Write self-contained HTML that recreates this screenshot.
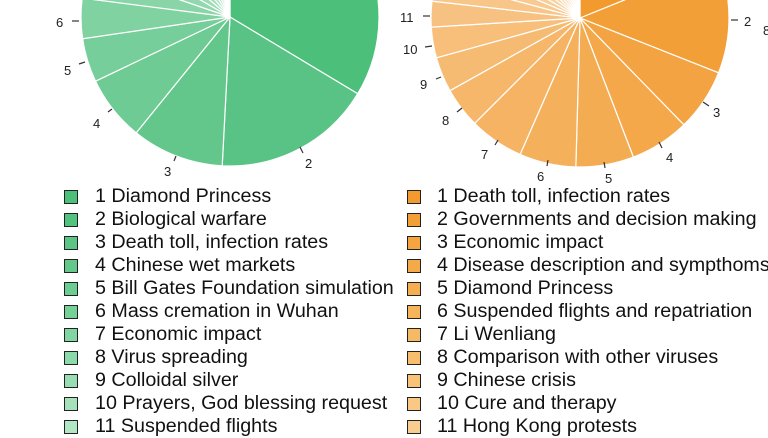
<!DOCTYPE html>
<html><head><meta charset="utf-8"><style>
html,body{margin:0;padding:0;background:#fff;width:768px;height:432px;overflow:hidden;font-family:"Liberation Sans",Arial,sans-serif}
svg{position:absolute;left:0;top:0}
.lg{position:absolute;font-size:19.7px;color:#111;line-height:23px;white-space:nowrap}
.lg div{position:relative;height:23px}
.sq{position:absolute;width:12px;height:12px;border:1px solid #222;top:5px}
</style></head><body>
<svg id="s" width="768" height="432" font-family="Liberation Sans, Arial, sans-serif" font-size="13" fill="#222">
<g id="pies"></g>
<g stroke="#333" stroke-width="1.2">
<line x1="300" y1="147" x2="303" y2="153"/><line x1="176" y1="156" x2="174" y2="161"/>
<line x1="112" y1="109" x2="108" y2="112"/><line x1="85" y1="62" x2="79" y2="64"/><line x1="79" y1="21" x2="72" y2="21"/>
<line x1="731" y1="20" x2="738" y2="20"/><line x1="703" y1="102" x2="709" y2="106"/><line x1="659" y1="142" x2="662" y2="148"/>
<line x1="604" y1="162" x2="605" y2="168"/><line x1="548" y1="160" x2="547" y2="166"/><line x1="498" y1="140" x2="495" y2="145"/>
<line x1="462" y1="108" x2="457" y2="112"/><line x1="441" y1="77" x2="436" y2="79"/><line x1="432" y1="46" x2="425" y2="47"/><line x1="430" y1="16" x2="423" y2="16"/>
</g>
<text x="305" y="168">2</text><text x="164" y="176">3</text><text x="93" y="128">4</text><text x="64" y="75">5</text><text x="56" y="27">6</text>
<text x="744" y="26">2</text><text x="763" y="35">8</text><text x="713" y="117">3</text><text x="666" y="162">4</text><text x="605" y="183">5</text>
<text x="537" y="181">6</text><text x="481" y="159">7</text><text x="442" y="125">8</text><text x="420" y="89">9</text><text x="403" y="54">10</text><text x="400" y="22">11</text>
</svg>
<div class="lg" style="left:64px;top:185px">
<div><span class="sq" style="left:0;background:#4cbf7b"></span><span style="margin-left:31px">1 Diamond Princess</span></div>
<div><span class="sq" style="left:0;background:#52c27f"></span><span style="margin-left:31px">2 Biological warfare</span></div>
<div><span class="sq" style="left:0;background:#5ac585"></span><span style="margin-left:31px">3 Death toll, infection rates</span></div>
<div><span class="sq" style="left:0;background:#63c98b"></span><span style="margin-left:31px">4 Chinese wet markets</span></div>
<div><span class="sq" style="left:0;background:#6ccd92"></span><span style="margin-left:31px">5 Bill Gates Foundation simulation</span></div>
<div><span class="sq" style="left:0;background:#76d199"></span><span style="margin-left:31px">6 Mass cremation in Wuhan</span></div>
<div><span class="sq" style="left:0;background:#81d5a1"></span><span style="margin-left:31px">7 Economic impact</span></div>
<div><span class="sq" style="left:0;background:#8cd9a9"></span><span style="margin-left:31px">8 Virus spreading</span></div>
<div><span class="sq" style="left:0;background:#98deb2"></span><span style="margin-left:31px">9 Colloidal silver</span></div>
<div><span class="sq" style="left:0;background:#a5e2bb"></span><span style="margin-left:31px">10 Prayers, God blessing request</span></div>
<div><span class="sq" style="left:0;background:#b2e7c5"></span><span style="margin-left:31px">11 Suspended flights</span></div>
</div>
<div class="lg" style="left:407px;top:185px">
<div><span class="sq" style="left:0;background:#f29a2e"></span><span style="margin-left:30px">1 Death toll, infection rates</span></div>
<div><span class="sq" style="left:0;background:#f39f37"></span><span style="margin-left:30px">2 Governments and decision making</span></div>
<div><span class="sq" style="left:0;background:#f4a53f"></span><span style="margin-left:30px">3 Economic impact</span></div>
<div><span class="sq" style="left:0;background:#f4aa48"></span><span style="margin-left:30px">4 Disease description and sympthoms</span></div>
<div><span class="sq" style="left:0;background:#f5af51"></span><span style="margin-left:30px">5 Diamond Princess</span></div>
<div><span class="sq" style="left:0;background:#f6b45b"></span><span style="margin-left:30px">6 Suspended flights and repatriation</span></div>
<div><span class="sq" style="left:0;background:#f6b964"></span><span style="margin-left:30px">7 Li Wenliang</span></div>
<div><span class="sq" style="left:0;background:#f7be6e"></span><span style="margin-left:30px">8 Comparison with other viruses</span></div>
<div><span class="sq" style="left:0;background:#f8c379"></span><span style="margin-left:30px">9 Chinese crisis</span></div>
<div><span class="sq" style="left:0;background:#f8c884"></span><span style="margin-left:30px">10 Cure and therapy</span></div>
<div><span class="sq" style="left:0;background:#f9cd8f"></span><span style="margin-left:30px">11 Hong Kong protests</span></div>
</div>
<script>
function mix(a,b,t){return 'rgb('+a.map((v,i)=>Math.round(v+(b[i]-v)*t)).join(',')+')';}
function pie(cx,cy,r,angs,c0,c1){
 var g=document.getElementById('pies'),n=angs.length-1,h='';
 for(var i=0;i<n;i++){
  var a0=(angs[i]-90)*Math.PI/180,a1=(angs[i+1]-90)*Math.PI/180;
  var x0=cx+r*Math.cos(a0),y0=cy+r*Math.sin(a0),x1=cx+r*Math.cos(a1),y1=cy+r*Math.sin(a1);
  var lg=(angs[i+1]-angs[i])>180?1:0;
  h+='<path d="M'+cx+','+cy+'L'+x0+','+y0+'A'+r+','+r+' 0 '+lg+' 1 '+x1+','+y1+'Z" fill="'+mix(c0,c1,Math.pow(i/(n-1),0.9))+'" stroke="#fff" stroke-width="1.2"/>';
 }
 g.innerHTML+=h;
}
pie(230,17,149,[0,121,183,219,244.5,261.6,277.3,289,300,310,319,327,334,340,345,349,353,356,358,360],[76,191,123],[240,250,244]);
pie(580,18,149,[0,68,111.6,135.8,159,181.6,203.7,225,240.8,254.5,266.5,276.5,285,293,300,307,313,319,325,331,336,341,346,350,354,357,360],[242,154,46],[254,246,236]);
</script>
</body></html>
